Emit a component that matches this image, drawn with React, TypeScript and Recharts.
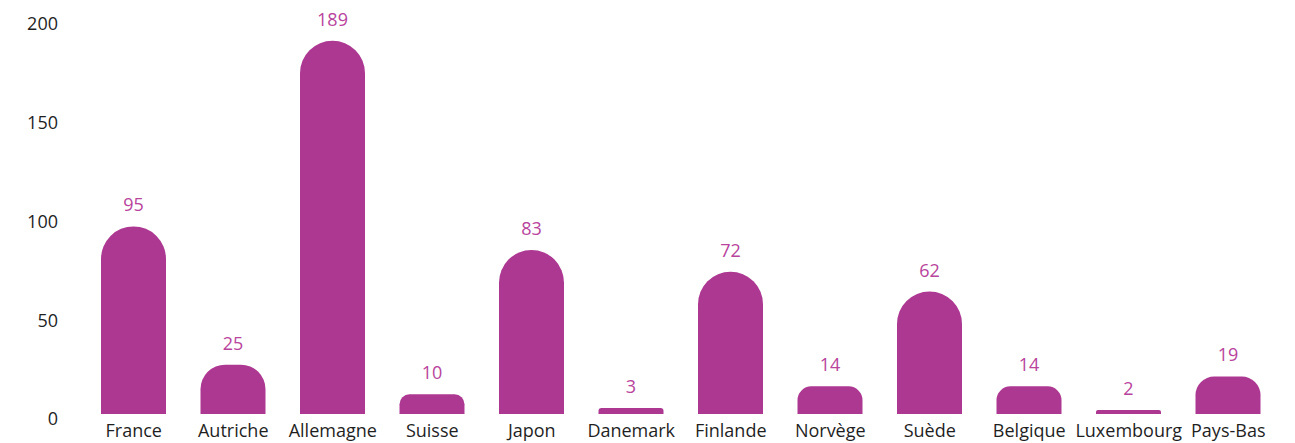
import { Bar, BarChart, LabelList, XAxis, YAxis } from 'recharts';

const countries = [
  'France',
  'Autriche',
  'Allemagne',
  'Suisse',
  'Japon',
  'Danemark',
  'Finlande',
  'Norvège',
  'Suède',
  'Belgique',
  'Luxembourg',
  'Pays-Bas',
];
const counts = [95, 25, 189, 10, 83, 3, 72, 14, 62, 14, 2, 19];
const yTicks = [0, 50, 100, 150, 200];

const data = countries.map((name, i) => ({ name, value: counts[i] }));

const FONT = '"Open Sans", sans-serif';

export default function App() {
  return (
    <BarChart
      width={1287}
      height={435}
      data={data}
      margin={{ top: 11, right: 17, bottom: 0, left: 0 }}
      barCategoryGap={34}
    >
      <XAxis
        dataKey="name"
        axisLine={false}
        tickLine={false}
        tickSize={0}
        tickMargin={10}
        height={29}
        interval={0}
        tick={{ fill: '#1f1f1f', fontSize: 18, fontFamily: FONT }}
      />
      <YAxis
        domain={[0, 200]}
        ticks={yTicks}
        axisLine={false}
        tickLine={false}
        tickSize={0}
        tickMargin={26}
        width={76}
        tick={{ fill: '#1f1f1f', fontSize: 18, fontFamily: FONT, dy: 5 }}
      />
      <Bar
        dataKey="value"
        fill="#ad3891"
        barSize={65}
        radius={[32.5, 32.5, 0, 0]}
        isAnimationActive={false}
      >
        <LabelList
          dataKey="value"
          position="top"
          offset={15}
          fill="#b8449c"
          fontSize={18}
          fontFamily={FONT}
        />
      </Bar>
    </BarChart>
  );
}
